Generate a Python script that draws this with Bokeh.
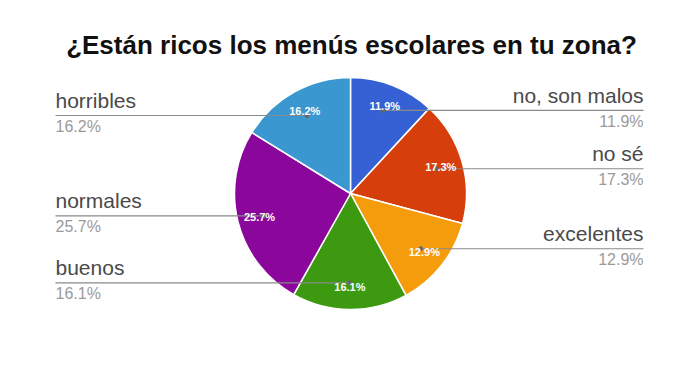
import math
from bokeh.plotting import figure
from bokeh.models import Range1d, ColumnDataSource
from bokeh.core.properties import value
from bokeh.embed import file_html
from bokeh.resources import INLINE

# ---------------- data ----------------
title_text = "¿Están ricos los menús escolares en tu zona?"
categories = ["no, son malos", "no sé", "excelentes", "buenos", "normales", "horribles"]
percents = [11.9, 17.3, 12.9, 16.1, 25.7, 16.2]
colors = ["#3561d4", "#d63e0c", "#f59c0c", "#3d9a10", "#8b079b", "#3b97cf"]

# ---------------- layout ----------------
W, H = 684, 366
PX = 116.0               # pixels per unit of pie radius
CX, CY = 350, 193        # pie centre in window pixels
FONT = "Liberation Sans"


def ux(px):
    return (px - CX) / PX


def uy(py):
    return (CY - py) / PX


p = figure(width=W, height=H, output_backend="svg", toolbar_location=None,
           x_range=Range1d(ux(0), ux(W)), y_range=Range1d(uy(H), uy(0)),
           min_border=0)
p.axis.visible = False
p.grid.visible = False
p.outline_line_color = None
p.background_fill_color = "white"
p.border_fill_color = "white"

total = sum(percents)
starts, ends, mids = [], [], []
c = 0.0
for v in percents:
    f0 = c / total
    c += v
    f1 = c / total
    starts.append(math.pi / 2 - 2 * math.pi * f0)
    ends.append(math.pi / 2 - 2 * math.pi * f1)
    mids.append((f0 + f1) / 2)

src = ColumnDataSource(dict(cat=categories, start=starts, end=ends, color=colors))
p.wedge(x=0, y=0, radius=1, start_angle="start", end_angle="end", direction="clock",
        fill_color="color", line_color="white", line_width=1.5, source=src)

lab_x, lab_y, lab_t = [], [], []
anc_x, anc_y = [], []
R_LAB, R_ANC = 0.81, 0.77
RIGHT_X, LEFT_X = ux(643), ux(55)
for cat, v, m in zip(categories, percents, mids):
    ang = 2 * math.pi * m
    lab_x.append(R_LAB * math.sin(ang))
    lab_y.append(R_LAB * math.cos(ang))
    lab_t.append(f"{v:.1f}%")
    ax, ay = R_ANC * math.sin(ang), R_ANC * math.cos(ang)
    anc_x.append(ax)
    anc_y.append(ay)
    right = m < 0.5
    ex = RIGHT_X if right else LEFT_X
    p.line([ax, ex], [ay, ay], line_color="#8a8a8a", line_width=1.2)
    align = "right" if right else "left"
    p.text(x=[ex], y=[ay + 15 / PX], text=[cat], text_align=align,
           text_baseline="middle", text_font=value(FONT),
           text_font_size=value("21px"), text_color="#4a4a4a")
    p.text(x=[ex], y=[ay - 11 / PX], text=[f"{v:.1f}%"], text_align=align,
           text_baseline="middle", text_font=value(FONT),
           text_font_size=value("16px"), text_color="#9a9a9a")

p.scatter(anc_x, anc_y, size=4, color="#666666")
p.text(x=lab_x, y=lab_y, text=lab_t, text_align="center", text_baseline="middle",
       text_font=value(FONT), text_font_size=value("11px"), text_font_style="bold",
       text_color="white")

p.text(x=[ux(351)], y=[uy(44)], text=[title_text], text_align="center",
       text_baseline="middle", text_font=value(FONT),
       text_font_size=value("26px"), text_font_style="bold", text_color="#111111")

open("out.html", "w").write(file_html(p, INLINE))
